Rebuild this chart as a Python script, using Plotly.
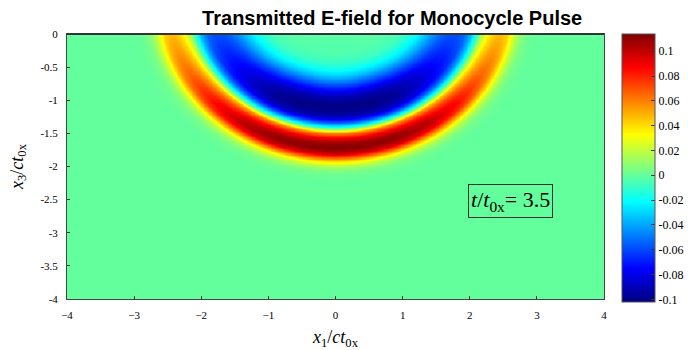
import numpy as np
import plotly.graph_objects as go

# ---- data ----
x1_ticks = [-4, -3, -2, -1, 0, 1, 2, 3, 4]
x3_ticks = [0, -0.5, -1, -1.5, -2, -2.5, -3, -3.5, -4]
x3_labels = ["0", "-0.5", "-1", "-1.5", "-2", "-2.5", "-3", "-3.5", "-4"]
cbar_ticks = [0.1, 0.08, 0.06, 0.04, 0.02, 0, -0.02, -0.04, -0.06, -0.08, -0.1]
cbar_labels = ["0.1", "0.08", "0.06", "0.04", "0.02", "0",
               "-0.02", "-0.04", "-0.06", "-0.08", "-0.1"]

# field profile read along x1 = 0 (depth below interface -> field value)
depth = [0.0, 0.30, 0.45, 0.55, 0.65, 0.75, 0.85, 0.95, 1.05, 1.15, 1.25,
         1.33, 1.40, 1.45, 1.50, 1.57, 1.65, 1.72, 1.80, 1.86, 1.93, 2.00,
         2.08, 2.20, 6.0]
field = [-0.002, -0.004, -0.010, -0.020, -0.035, -0.055, -0.075, -0.092,
         -0.100, -0.100, -0.090, -0.060, -0.020, 0.020, 0.060, 0.090, 0.110,
         0.114, 0.100, 0.070, 0.035, 0.015, 0.004, 0.0, 0.0]

# lobe strength versus direction (degrees from straight down)
angle_deg = [0, 30, 45, 60, 75, 90]
amp_pos = [1.0, 0.97, 0.90, 0.76, 0.57, 0.42]
amp_neg = [1.0, 1.0, 0.96, 0.86, 0.72, 0.58]

# wavefront shape (horizontal stretch, virtual-centre height)
front_k = 1.1
front_c = 0.6

z_min, z_max = -0.102, 0.114
time_label = "3.5"

# ---- grid ----
x1 = np.linspace(-4, 4, 401)
x3 = np.linspace(-4, 0, 201)
X, Y = np.meshgrid(x1, x3)
d = np.sqrt((X / front_k) ** 2 + (Y - front_c) ** 2) - front_c
base = np.interp(d, depth, field)
phi = np.degrees(np.arctan2(np.abs(X), -Y + 1e-9))
amp = np.where(base > 0, np.interp(phi, angle_deg, amp_pos),
               np.interp(phi, angle_deg, amp_neg))
Z = base * amp

jet = [[0.0, "rgb(0,0,128)"], [0.125, "rgb(0,0,255)"],
       [0.375, "rgb(0,255,255)"], [0.625, "rgb(255,255,0)"],
       [0.875, "rgb(255,0,0)"], [1.0, "rgb(128,0,0)"]]

serif = "Liberation Serif, Times New Roman, serif"

fig = go.Figure(go.Heatmap(
    x=x1, y=x3, z=Z, colorscale=jet, zmin=z_min, zmax=z_max,
    zsmooth="best",
    colorbar=dict(
        x=1.0335, xanchor="left", xref="paper", y=0.495, yanchor="middle",
        len=1.01, lenmode="fraction", thickness=33, thicknessmode="pixels",
        xpad=0, ypad=0,
        tickvals=cbar_ticks, ticktext=cbar_labels, ticks="inside",
        ticklen=4, tickcolor="#333", outlinecolor="#555", outlinewidth=1,
        tickfont=dict(family=serif, size=12, color="black"),
    ),
))

fig.update_layout(
    width=688, height=350,
    margin=dict(l=67, r=84, t=34, b=51, autoexpand=False),
    paper_bgcolor="white", plot_bgcolor="white",
    title=dict(text="<b>Transmitted E-field for Monocycle Pulse</b>",
               x=0.57, xanchor="center", y=0.948, yanchor="middle",
               font=dict(family="Liberation Sans, Arial, sans-serif",
                         size=20, color="black")),
    xaxis=dict(range=[-4, 4], tickvals=x1_ticks, ticks="inside",
               ticklen=3, tickcolor="#333", showline=True, mirror=True,
               linecolor="#444", linewidth=1, showgrid=False, zeroline=False,
               ticklabelstandoff=6,
               tickfont=dict(family=serif, size=11, color="black"),
               title=dict(text="<i>x</i><sub>1</sub>/<i>ct</i><sub>0x</sub>",
                          font=dict(family=serif, size=18, color="black"),
                          standoff=10)),
    yaxis=dict(range=[-4, 0], tickvals=x3_ticks, ticktext=x3_labels,
               ticks="inside", ticklen=3, tickcolor="#333", showline=True,
               mirror=True, linecolor="#444", linewidth=1, showgrid=False,
               zeroline=False, ticklabelstandoff=6,
               tickfont=dict(family=serif, size=11, color="black"),
               title=dict(text="<i>x</i><sub>3</sub>/<i>ct</i><sub>0x</sub>",
                          font=dict(family=serif, size=18, color="black"),
                          standoff=12)),
    shapes=[dict(type="line", xref="paper", yref="paper", x0=0, x1=1,
                 y0=1, y1=1, line=dict(color="#333", width=2))],
    annotations=[dict(
        x=2.6, y=-2.52, xref="x", yref="y", showarrow=False,
        text="<i>t</i>/<i>t</i><sub>0x</sub>= " + time_label,
        font=dict(family=serif, size=22, color="black"),
        bordercolor="#333", borderwidth=1, borderpad=2,
    )],
)

fig.write_html("out.html")
